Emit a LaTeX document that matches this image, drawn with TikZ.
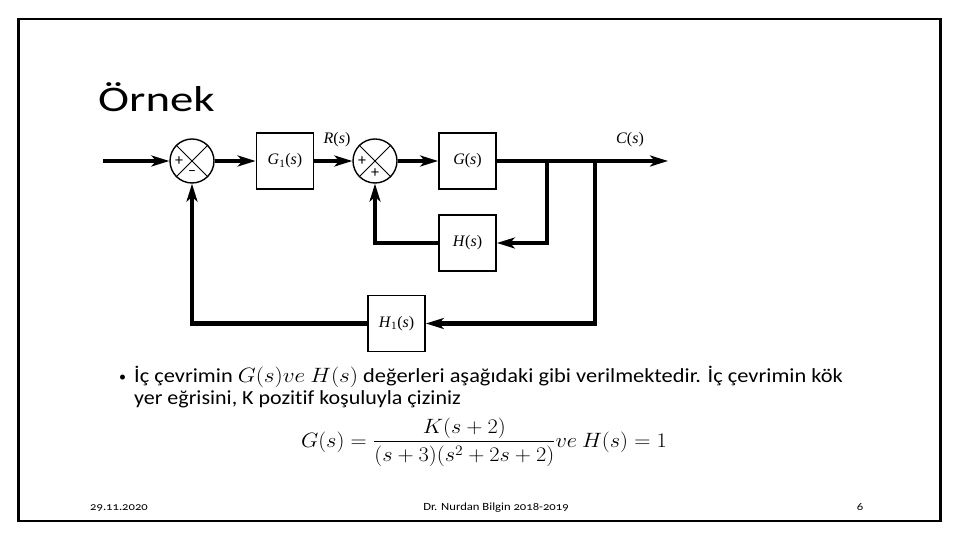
\documentclass[tikz,border=0pt]{standalone}
\usepackage{amsmath}
\usepackage{graphicx}
\usepackage{fontspec}
\setmainfont{Carlito}[Ligatures={NoCommon}]
\newfontfamily\lserif{Liberation Serif}
\newfontfamily\footfont[Numbers=OldStyle]{Carlito}
\newcommand\genis[2]{\scalebox{#1}[1]{#2}}
\usetikzlibrary{arrows.meta, positioning}

\begin{document}
\begin{tikzpicture}[x=1pt, y=1pt, >={Stealth[length=18pt, width=11pt, inset=5pt]},
    blok/.style={draw, line width=1.8pt, minimum width=57pt, minimum height=56pt, inner sep=0pt,
        font=\lserif\fontsize{16}{18}\selectfont},
    topla/.style={draw, circle, line width=1.4pt, minimum size=44pt, inner sep=0pt},
    isaret/.style={font=\fontsize{16}{16}\selectfont, inner sep=0pt},
    sinyal/.style={line width=4.5pt, line join=miter},
    etiket/.style={font=\lserif\fontsize{16}{18}\selectfont, inner sep=0pt},
    govde/.style={font=\fontsize{20}{22}\selectfont, inner sep=0pt, anchor=base west},
    altyazi/.style={font=\footfont\fontsize{11}{12}\selectfont, inner sep=0pt, anchor=base}]
    \useasboundingbox (0,0) rectangle (960,540);
    % Slayt çerçevesi ve başlık
    \draw[line width=2.4pt] (18.3,520.7) rectangle (940.5,19);
    \node[anchor=base west, inner sep=0pt, font=\fontsize{36}{40}\selectfont] (baslik) at (98,428.5) {\genis{1.3}{Örnek}};
    % Toplama noktaları
    \node[topla] (s1) at (192,379) {};
    \node[topla] (s2) at (375,379) {};
    \draw[line width=0.8pt] (s1.north west) -- (s1.south east) (s1.north east) -- (s1.south west);
    \draw[line width=0.8pt] (s2.north west) -- (s2.south east) (s2.north east) -- (s2.south west);
    \node[isaret] (s1p) at ([xshift=-13pt]s1.center) {+};
    \node[isaret] (s1m) at ([yshift=-12pt]s1.center) {–};
    \node[isaret] (s2p) at ([xshift=-13pt]s2.center) {+};
    \node[isaret] (s2q) at ([yshift=-12pt]s2.center) {+};
    % Bloklar
    \node[blok] (g1) at (285,379) {\textit{G}\textsubscript{1}(\textit{s})};
    \node[blok] (g) at (467.5,379) {\textit{G}(\textit{s})};
    \node[blok] (h) at (467.5,297) {\textit{H}(\textit{s})};
    \node[blok] (h1) at (396.5,216.5) {\textit{H}\textsubscript{1}(\textit{s})};
    % İleri yol
    \coordinate (giris) at (103,379);
    \coordinate (cikis) at (668,379);
    \coordinate (d1) at (547,379);
    \coordinate (d2) at (595,379);
    \draw[->, line width=3.5pt] (giris) -- (s1);
    \draw[->, sinyal] (s1) -- (g1);
    \draw[->, sinyal] (g1) -- (s2);
    \draw[->, sinyal] (s2) -- (g);
    \draw[->, sinyal] (g) -- (cikis);
    \node[etiket] (rs) at (337,400) {\textit{R}(\textit{s})};
    \node[etiket] (cs) at (630,400) {\textit{C}(\textit{s})};
    % Geri besleme yolları
    \draw[->, sinyal] (d1) |- (h);
    \draw[->, sinyal] (h) -| (s2);
    \draw[->, sinyal] (d2) |- (h1);
    \draw[->, sinyal] (h1) -| (s1);
    % Soru metni
    \node[govde, font=\fontsize{14}{14}\selectfont] (mad) at (119,158) {•};
    \node[govde] (satir1) at (134,157) {\genis{1.12}{İç çevrimin $G(s)ve\ H(s)$ değerleri aşağıdaki gibi verilmektedir. İç çevrimin kök}};
    \node[govde] (satir2) at (134,135) {\genis{1.1}{yer eğrisini, K pozitif koşuluyla çiziniz}};
    \node[inner sep=0pt, font=\fontsize{20}{22}\selectfont] (formul) at (484,98)
        {\genis{1.08}{$G(s)=\dfrac{K(s+2)}{(s+3)(s^2+2s+2)}ve\ H(s)=1$}};
    % Alt bilgi
    \node[altyazi, anchor=base west] (tarih) at (90,29) {\genis{1.15}{29.11.2020}};
    \node[altyazi] (yazar) at (496,29) {\genis{1.15}{Dr. Nurdan Bilgin 2018-2019}};
    \node[altyazi] (sayfa) at (860,29) {\genis{1.15}{6}};
\end{tikzpicture}
\end{document}
